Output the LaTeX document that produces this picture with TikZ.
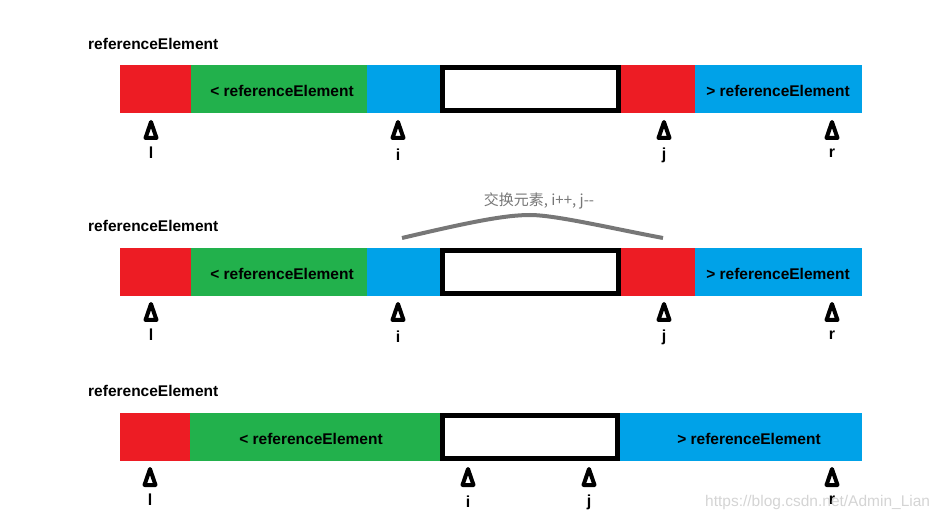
\documentclass[tikz,border=0pt]{standalone}
\usepackage{fontspec}
\setmainfont{Liberation Sans}
\newfontfamily\cjk{Noto Sans CJK SC}
\usepackage{tikz}

\definecolor{pred}{HTML}{ED1C24}
\definecolor{pgreen}{HTML}{22B14C}
\definecolor{pblue}{HTML}{00A2E8}
\definecolor{swapgray}{HTML}{777777}

\begin{document}
\begin{tikzpicture}[x=1pt,y=-1pt,
  txt/.style={font=\bfseries\fontsize{15.5}{18}\selectfont,inner sep=0},
  idx/.style={font=\bfseries\fontsize{16}{18}\selectfont,inner sep=0},
  box/.style={draw=black,fill=white,line width=5pt},
  ptr/.style={draw=black,fill=white,line width=4pt,line join=round}]
  \useasboundingbox (0,0) rectangle (943,521);

  % row 1
  \node[txt,anchor=west] (title1) at (88,44) {referenceElement};
  \fill[pred] (120,65) rectangle (191,113);
  \fill[pgreen] (191,65) rectangle (367,113);
  \fill[pblue] (367,65) rectangle (440,113);
  \draw[box] (442.5,67.5) rectangle (618.5,110.5);
  \fill[pred] (621,65) rectangle (695,113);
  \fill[pblue] (695,65) rectangle (862,113);
  \node[txt] (less1) at (282,91) {< referenceElement};
  \node[txt] (more1) at (778,91) {> referenceElement};
  \foreach \x in {151,398,664,832}
    \draw[ptr] (\x,122) -- ++(5.5,16) -- ++(-11,0) -- cycle;
  \node[idx] (l1) at (151,153) {l};
  \node[idx] (i1) at (398,155) {i};
  \node[idx] (j1) at (664,155) {j};
  \node[idx] (r1) at (832,153) {r};

  % row 2
  \node[txt,anchor=west] (title2) at (88,226) {referenceElement};
  \node[font=\cjk\fontsize{15}{17}\selectfont,text=swapgray,inner sep=0] (swap) at (539,201) {交换元素, i++, j--};
  \draw[swapgray,line width=4pt] (402,238) .. controls (470,222) and (505,215) .. (530,215)
    .. controls (555,215) and (610,228) .. (663,238);
  \fill[pred] (120,248) rectangle (191,296);
  \fill[pgreen] (191,248) rectangle (367,296);
  \fill[pblue] (367,248) rectangle (440,296);
  \draw[box] (442.5,250.5) rectangle (618.5,293.5);
  \fill[pred] (621,248) rectangle (695,296);
  \fill[pblue] (695,248) rectangle (862,296);
  \node[txt] (less2) at (282,274) {< referenceElement};
  \node[txt] (more2) at (778,274) {> referenceElement};
  \foreach \x in {151,398,664,832}
    \draw[ptr] (\x,304) -- ++(5.5,16) -- ++(-11,0) -- cycle;
  \node[idx] (l2) at (151,335) {l};
  \node[idx] (i2) at (398,337) {i};
  \node[idx] (j2) at (664,337) {j};
  \node[idx] (r2) at (832,335) {r};

  % row 3
  \node[txt,anchor=west] (title3) at (88,391) {referenceElement};
  \fill[pred] (120,413) rectangle (190,461);
  \fill[pgreen] (190,413) rectangle (440,461);
  \draw[box] (442.5,415.5) rectangle (617.5,458.5);
  \fill[pblue] (620,413) rectangle (862,461);
  \node[txt] (less3) at (311,439) {< referenceElement};
  \node[txt] (more3) at (749,439) {> referenceElement};
  \foreach \x in {150,468,589,832}
    \draw[ptr] (\x,469) -- ++(5.5,16) -- ++(-11,0) -- cycle;
  \node[idx] (l3) at (150,500) {l};
  \node[idx] (i3) at (468,502) {i};
  \node[idx] (j3) at (589,502) {j};
  \node[idx] (r3) at (832,500) {r};

  \node[font=\fontsize{15.5}{18}\selectfont,text=black!17,inner sep=0,anchor=west] (mark) at (705,502) {https://blog.csdn.net/Admin\_Lian};
\end{tikzpicture}
\end{document}
